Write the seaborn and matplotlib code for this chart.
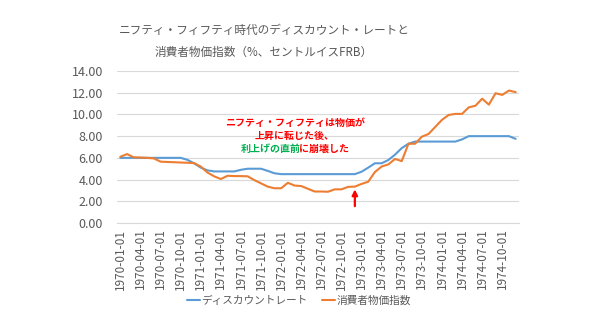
import matplotlib
matplotlib.use("Agg")
import matplotlib.pyplot as plt
import seaborn as sns
import pandas as pd
import numpy as np
from matplotlib.ticker import FixedLocator, FuncFormatter
from matplotlib.lines import Line2D

# ---- data ----
months = [f"{y}-{m:02d}-01" for y in range(1970, 1975) for m in range(1, 13)]

discount_rate = [
    6.00, 6.00, 6.00, 6.00, 6.00, 6.00, 6.00, 6.00, 6.00, 6.00, 5.82, 5.50,
    5.10, 4.85, 4.75, 4.75, 4.75, 4.75, 4.90, 5.00, 5.00, 5.00, 4.80, 4.58,
    4.50, 4.50, 4.50, 4.50, 4.50, 4.50, 4.50, 4.50, 4.50, 4.50, 4.50, 4.50,
    4.72, 5.10, 5.50, 5.50, 5.80, 6.30, 6.90, 7.30, 7.50, 7.50, 7.50, 7.50,
    7.50, 7.50, 7.50, 7.70, 8.00, 8.00, 8.00, 8.00, 8.00, 8.00, 8.00, 7.75,
]

cpi = [
    6.10, 6.35, 6.05, 6.03, 6.00, 5.95, 5.65, 5.62, 5.60, 5.57, 5.55, 5.52,
    5.20, 4.65, 4.30, 4.05, 4.35, 4.32, 4.32, 4.30, 3.95, 3.65, 3.35, 3.20,
    3.20, 3.70, 3.45, 3.40, 3.15, 2.90, 2.90, 2.88, 3.10, 3.10, 3.33, 3.35,
    3.60, 3.80, 4.70, 5.20, 5.40, 5.90, 5.70, 7.30, 7.30, 7.95, 8.20, 8.85,
    9.50, 9.95, 10.05, 10.05, 10.65, 10.80, 11.45, 10.90, 11.95, 11.80, 12.20, 12.05,
]

series_names = ["ディスカウントレート", "消費者物価指数"]
series_colors = ["#5B9BD5", "#ED7D31"]

title_lines = ["ニフティ・フィフティ時代のディスカウント・レートと",
               "消費者物価指数（%、セントルイスFRB）"]

# ---- build long table ----
n = len(months)
df = pd.DataFrame({
    "pos": list(range(n)) * 2,
    "value": discount_rate + cpi,
    "series": [series_names[0]] * n + [series_names[1]] * n,
})

sns.set_theme(style="white")
plt.rcParams["font.family"] = ["Noto Sans CJK JP", "DejaVu Sans"]

W, H = 594, 334
fig = plt.figure(figsize=(W / 100, H / 100), dpi=100)
ax = fig.add_axes([117 / W, 1 - 223 / H, (519 - 117) / W, (223 - 71) / H])

sns.lineplot(data=df, x="pos", y="value", hue="series",
             palette=dict(zip(series_names, series_colors)),
             linewidth=1.5, ax=ax, legend=False)

grey = "#595959"
ax.set_xlim(-0.5, n - 0.5)
ax.set_ylim(0, 14)
ax.set_yticks(np.arange(0, 14.01, 2))
ax.yaxis.set_major_formatter(FuncFormatter(lambda v, p: f"{v:.2f}"))
ax.grid(axis="y", color="#D9D9D9", linewidth=0.8)
ax.set_axisbelow(True)

label_pos = list(range(0, n, 3))
ax.set_xticks(label_pos)
ax.set_xticklabels([months[i] for i in label_pos], rotation=90)
ax.xaxis.set_minor_locator(FixedLocator(np.arange(-0.5, n, 3)))
ax.tick_params(axis="x", which="major", length=0, pad=4, labelsize=8.5, labelcolor=grey)
ax.tick_params(axis="x", which="minor", length=3, color="#D9D9D9", width=0.8)
ax.tick_params(axis="y", length=0, pad=10, labelsize=9, labelcolor=grey)
ax.set_xlabel("")
ax.set_ylabel("")
for s in ["top", "right", "left"]:
    ax.spines[s].set_visible(False)
ax.spines["bottom"].set_color("#D9D9D9")
ax.spines["bottom"].set_linewidth(0.8)

# title
fig.text(264 / W, 1 - 30 / H, title_lines[0], ha="center", va="center",
         fontsize=8.4, color=grey)
fig.text(264 / W, 1 - 52 / H, title_lines[1], ha="center", va="center",
         fontsize=8.4, color=grey)

# annotation
red = "#FF0000"
green = "#00B050"
fs_ann = 7.2
fig.text(295 / W, 1 - 123 / H, "ニフティ・フィフティは物価が", ha="center", va="center",
         fontsize=fs_ann, color=red, fontweight="bold")
fig.text(295 / W, 1 - 136 / H, "上昇に転じた後、", ha="center", va="center",
         fontsize=fs_ann, color=red, fontweight="bold")
t1 = fig.text(295 / W, 1 - 149 / H, "利上げの直前", ha="right", va="center",
              fontsize=fs_ann, color=green, fontweight="bold")
fig.canvas.draw()
r = fig.canvas.get_renderer()
t2 = fig.text(0, 1 - 149 / H, "に崩壊した", ha="left", va="center",
              fontsize=fs_ann, color=red, fontweight="bold")
w1 = t1.get_window_extent(r).width
w2 = t2.get_window_extent(r).width
cx = 295
split = cx - (w1 + w2) / 2 + w1
t1.set_x((split + 1) / W)
t2.set_x((split - 1) / W)

ax.annotate("", xy=(35, 3.1), xytext=(35, 1.55),
            arrowprops=dict(arrowstyle="-|>", color=red, lw=1.6,
                            mutation_scale=8, shrinkA=0, shrinkB=0))

# legend
handles = [Line2D([0], [0], color=c, lw=1.5) for c in series_colors]
fig.legend(handles, series_names, loc="center", ncol=2,
           bbox_to_anchor=(299 / W, 1 - 301 / H), frameon=False,
           fontsize=7.7, handlelength=1.2, handletextpad=0.1,
           columnspacing=1.4, labelcolor=grey)

fig.savefig("out.png", dpi=100, facecolor="white")
